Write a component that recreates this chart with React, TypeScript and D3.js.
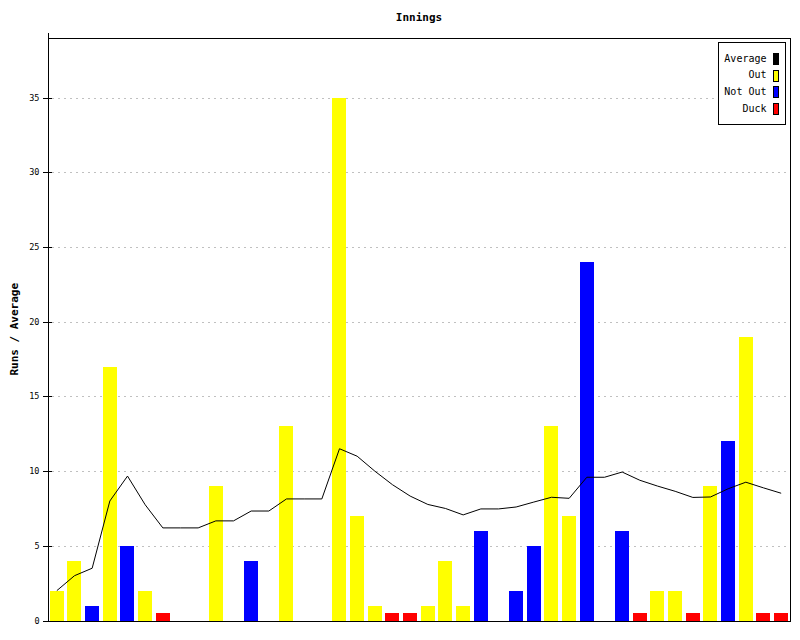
import React, { useEffect, useRef } from "react";
import * as d3 from "d3";

// ---- data ----
const innings: number[] = d3.range(1, 43);
const runs: number[] = [2, 4, 1, 17, 5, 2, 0, 0, 0, 9, 0, 4, 0, 13, 0, 0, 35, 7, 1, 0, 0, 1, 4, 1, 6, 0, 2, 5, 13, 7, 24, 0, 6, 0, 2, 2, 0, 9, 12, 19, 0, 0];
const outcomes: string[] = [
  "Out", "Out", "Not Out", "Out", "Not Out", "Out", "Duck", "Not Out", "Not Out", "Out",
  "Not Out", "Not Out", "Not Out", "Out", "Not Out", "Not Out", "Out", "Out", "Out", "Duck",
  "Duck", "Out", "Out", "Out", "Not Out", "Not Out", "Not Out", "Not Out", "Out", "Out",
  "Not Out", "Not Out", "Not Out", "Duck", "Out", "Out", "Duck", "Out", "Not Out", "Out",
  "Duck", "Duck",
];
const averages: number[] = [
  2, 3, 3.5, 8, 9.67, 7.75, 6.2, 6.2, 6.2, 6.67,
  6.67, 7.33, 7.33, 8.14, 8.14, 8.14, 11.5, 11, 10, 9.09,
  8.33, 7.77, 7.5, 7.07, 7.47, 7.47, 7.6, 7.93, 8.25, 8.18,
  9.59, 9.59, 9.94, 9.39, 9, 8.65, 8.24, 8.27, 8.82, 9.26,
  8.88, 8.52,
];
const duckDisplayValue = 0.5;
const yTicks: number[] = [0, 5, 10, 15, 20, 25, 30, 35];
const legendLabels: string[] = ["Average", "Out", "Not Out", "Duck"];
const legendColors: string[] = ["#000000", "#ffff00", "#0000ff", "#ff0000"];
const title = "Innings";
const yLabel = "Runs / Average";

const colorOf: Record<string, string> = { Out: "#ffff00", "Not Out": "#0000ff", Duck: "#ff0000" };

export default function App() {
  const ref = useRef<SVGSVGElement | null>(null);

  useEffect(() => {
    const svg = d3.select(ref.current);
    svg.selectAll("*").remove();
    const W = 800, H = 640;
    const left = 48, right = 790, top = 38, bottom = 620.5;
    const font = "'DejaVu Sans Mono', monospace";

    svg.append("rect").attr("width", W).attr("height", H).attr("fill", "#fff");

    const x = d3.scaleBand<number>().domain(innings).range([left, right]).paddingInner(0.2).paddingOuter(0.1);
    const y = d3.scaleLinear().domain([0, 39]).range([bottom, top]);

    // grid lines
    svg.append("g").selectAll("line").data(yTicks.filter((t) => t > 0)).join("line")
      .attr("x1", left + 4).attr("x2", right)
      .attr("y1", (d) => Math.round(y(d)) + 0.5).attr("y2", (d) => Math.round(y(d)) + 0.5)
      .attr("stroke", "#c0c0c0").attr("stroke-dasharray", "2,4");

    // bars
    const data = innings.map((inn, i) => ({ inn, runs: runs[i], outcome: outcomes[i], avg: averages[i] }));
    svg.append("g").selectAll("rect").data(data.filter((d) => d.outcome === "Duck" || d.runs > 0)).join("rect")
      .attr("x", (d) => Math.round(x(d.inn)!))
      .attr("width", Math.round(x.bandwidth()))
      .attr("y", (d) => Math.round(y(d.outcome === "Duck" ? duckDisplayValue : d.runs)))
      .attr("height", (d) => Math.round(bottom) - Math.round(y(d.outcome === "Duck" ? duckDisplayValue : d.runs)))
      .attr("fill", (d) => colorOf[d.outcome])
      .attr("shape-rendering", "crispEdges");

    // average line
    const line = d3.line<(typeof data)[0]>()
      .x((d) => x(d.inn)! + x.bandwidth() / 2)
      .y((d) => y(d.avg));
    svg.append("path").datum(data).attr("d", line).attr("fill", "none").attr("stroke", "#000").attr("stroke-width", 1);

    // frame
    const frame = svg.append("g").attr("stroke", "#000").attr("shape-rendering", "crispEdges");
    frame.append("line").attr("x1", left + 0.5).attr("x2", left + 0.5).attr("y1", 33).attr("y2", bottom);
    frame.append("line").attr("x1", left).attr("x2", right + 0.5).attr("y1", top + 0.5).attr("y2", top + 0.5);
    frame.append("line").attr("x1", right + 0.5).attr("x2", right + 0.5).attr("y1", top).attr("y2", bottom);
    frame.append("line").attr("x1", left).attr("x2", right + 1).attr("y1", Math.round(bottom) + 0.5).attr("y2", Math.round(bottom) + 0.5);

    // y axis ticks
    const yt = svg.append("g");
    yt.selectAll("line").data(yTicks).join("line")
      .attr("x1", 43).attr("x2", 52)
      .attr("y1", (d) => Math.round(y(d)) + 0.5).attr("y2", (d) => Math.round(y(d)) + 0.5)
      .attr("stroke", "#000").attr("shape-rendering", "crispEdges");
    yt.selectAll("text").data(yTicks).join("text")
      .attr("x", 39.5).attr("y", (d) => y(d) + 3)
      .attr("text-anchor", "end").attr("font-family", font).attr("font-size", 8.5)
      .text((d) => String(d));

    // title & y label
    svg.append("text").attr("x", (left + right) / 2).attr("y", 20.5).attr("text-anchor", "middle")
      .attr("font-family", font).attr("font-size", 11).attr("font-weight", "bold").text(title);
    svg.append("text").attr("transform", `translate(18,${(top + bottom) / 2}) rotate(-90)`)
      .attr("text-anchor", "middle").attr("font-family", font).attr("font-size", 11).attr("font-weight", "bold").text(yLabel);

    // legend
    const lg = svg.append("g");
    lg.append("rect").attr("x", 718.5).attr("y", 42.5).attr("width", 67).attr("height", 81.5)
      .attr("fill", "#fff").attr("stroke", "#000").attr("shape-rendering", "crispEdges");
    legendLabels.forEach((lab, i) => {
      const cy = 58 + i * 16.7;
      lg.append("text").attr("x", 766.5).attr("y", cy + 3.5).attr("text-anchor", "end")
        .attr("font-family", font).attr("font-size", 10).text(lab);
      lg.append("rect").attr("x", 773.5).attr("y", Math.round(cy - 5) + 0.5).attr("width", 5).attr("height", 11)
        .attr("fill", legendColors[i]).attr("stroke", "#000").attr("shape-rendering", "crispEdges");
    });
  }, []);

  return <svg ref={ref} width={800} height={640} style={{ display: "block", position: "absolute", left: 0, top: 0 }} />;
}
